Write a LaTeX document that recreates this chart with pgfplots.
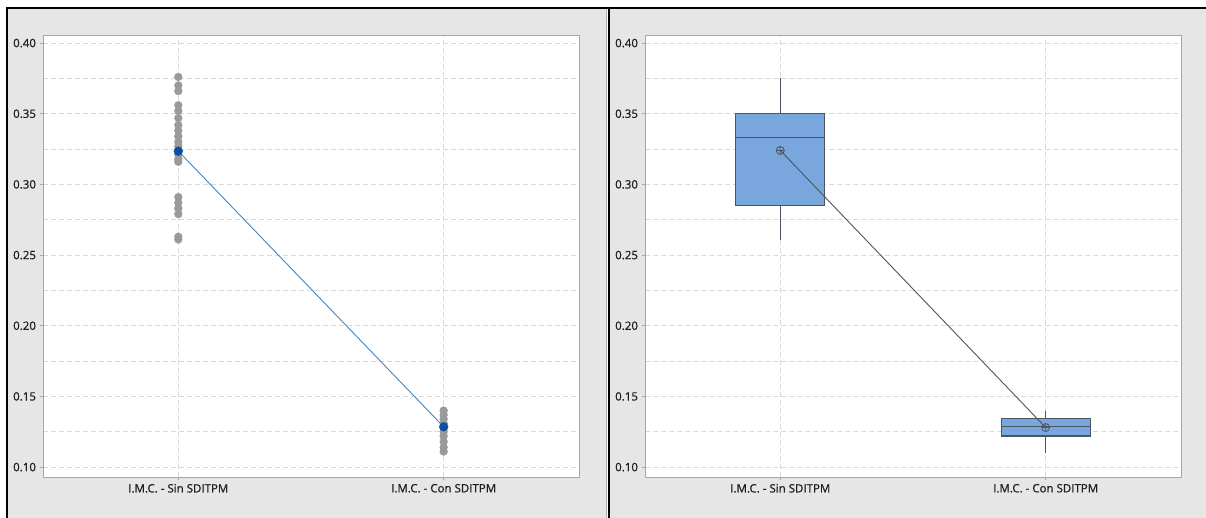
\documentclass[border=0pt]{standalone}
\usepackage{pgfplots}
\pgfplotsset{compat=1.18}
\usepackage{fontspec}
\setmainfont{Open Sans}
\newfontfamily\tickfont[FakeBold=0.8]{Open Sans}
\definecolor{panelgray}{HTML}{E6E6E6}
\definecolor{dotgray}{HTML}{9A9A9A}
\definecolor{meanblue}{HTML}{0B4EA2}
\definecolor{lineblue}{HTML}{3F86C6}
\definecolor{boxfill}{HTML}{79A6DC}
\definecolor{boxedge}{HTML}{4D5560}
\definecolor{axgray}{HTML}{A6A6A6}
\definecolor{gridgray}{HTML}{D9D9D9}
\definecolor{txt}{HTML}{1E1E1E}
\pgfplotsset{
  myax/.style={
    scale only axis, width=536pt, height=442pt,
    xmin=-0.51, xmax=1.51, ymin=0.093, ymax=0.4057,
    axis background/.style={fill=white},
    axis line style={draw=axgray, line width=0.9pt},
    xtick={0,1},
    xticklabels={I.M.C. - Sin SDITPM, I.M.C. - Con SDITPM},
    ytick={0.10,0.15,0.20,0.25,0.30,0.35,0.40},
    minor ytick={0.125,0.175,0.225,0.275,0.325,0.375},
    yticklabel style={/pgf/number format/.cd, fixed, fixed zerofill, precision=2, assume math mode=true},
    grid=both,
    major grid style={draw=gridgray, line width=0.8pt, dash pattern=on 5pt off 3pt},
    minor grid style={draw=gridgray, line width=0.8pt, dash pattern=on 5pt off 3pt},
    major tick length=3.5pt, minor tick length=0pt,
    tick align=outside, tick pos=left,
    tick style={draw=axgray, line width=0.9pt},
    ticklabel style={font=\tickfont\fontsize{11.5}{13}\selectfont, text=txt},
    scaled y ticks=false,
  },
  bx/.style={draw=boxedge, line width=1.1pt},
}
\begin{document}
\begin{tikzpicture}
\path[use as bounding box] (0pt,0pt) rectangle (1206pt,518pt);
\fill[white] (0pt,0pt) rectangle (1206pt,518pt);
\fill[panelgray] (8pt,0pt) rectangle (606pt,509pt);
\fill[panelgray] (610pt,0pt) rectangle (1206pt,509pt);
\draw[gray!60, line width=0.8pt] (606.3pt,0pt)--(606.3pt,509pt);
\draw[black, line width=1.3pt] (7pt,0pt)--(7pt,510pt)--(1206pt,510pt);
\draw[black, line width=1.8pt] (609pt,0pt)--(609pt,510pt);

\begin{axis}[myax, at={(43pt,41pt)}, anchor=south west]
\addplot[only marks, mark=*, mark size=3.9pt, color=dotgray, mark options={fill=dotgray, draw=dotgray}] coordinates {
(0,0.376)(0,0.370)(0,0.366)(0,0.356)(0,0.352)(0,0.347)(0,0.342)(0,0.338)(0,0.334)(0,0.330)
(0,0.327)(0,0.321)(0,0.318)(0,0.316)(0,0.291)(0,0.287)(0,0.283)(0,0.279)(0,0.263)(0,0.261)
(1,0.140)(1,0.137)(1,0.134)(1,0.131)(1,0.128)(1,0.125)(1,0.122)(1,0.118)(1,0.114)(1,0.111)
};
\addplot[lineblue, line width=0.9pt] coordinates {(0,0.3235)(1,0.1285)};
\addplot[only marks, mark=*, mark size=4.4pt, color=meanblue, mark options={fill=meanblue, draw=meanblue}] coordinates {(0,0.3235)(1,0.1285)};
\end{axis}

\begin{axis}[myax, at={(645pt,41pt)}, anchor=south west]
% Sin SDITPM: whiskers 0.261 / 0.3755, quartiles 0.285 / 0.350, median 0.333
\addplot[bx] coordinates {(0,0.261)(0,0.285)};
\addplot[bx] coordinates {(0,0.350)(0,0.3755)};
\addplot[bx, fill=boxfill] coordinates {(-0.168,0.285)(0.168,0.285)(0.168,0.350)(-0.168,0.350)} -- cycle;
\addplot[bx] coordinates {(-0.168,0.333)(0.168,0.333)};
% Con SDITPM: whiskers 0.1097 / 0.140, quartiles 0.122 / 0.1343, median 0.1286
\addplot[bx] coordinates {(1,0.1097)(1,0.122)};
\addplot[bx] coordinates {(1,0.1343)(1,0.140)};
\addplot[bx, fill=boxfill] coordinates {(0.832,0.122)(1.168,0.122)(1.168,0.1343)(0.832,0.1343)} -- cycle;
\addplot[bx] coordinates {(0.832,0.1286)(1.168,0.1286)};
% means
\addplot[boxedge, line width=0.9pt] coordinates {(0,0.324)(1,0.128)};
\addplot[only marks, mark=oplus, mark size=4pt, color=boxedge, mark options={fill=none, draw=boxedge, line width=0.8pt}] coordinates {(0,0.324)(1,0.128)};
\end{axis}
\end{tikzpicture}
\end{document}
